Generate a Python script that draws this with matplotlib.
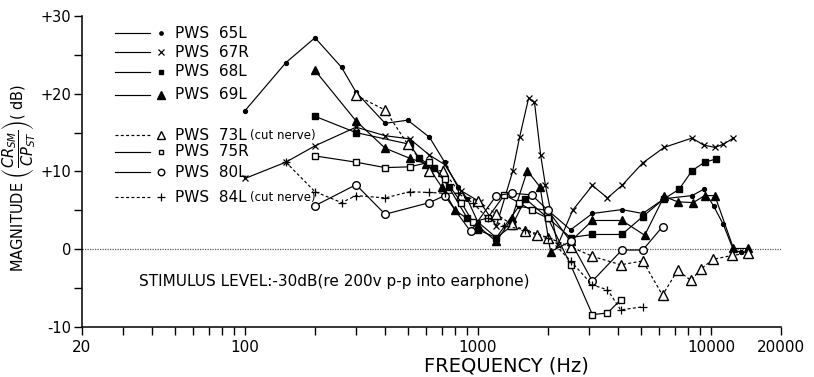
import numpy as np
import matplotlib.pyplot as plt
from matplotlib.ticker import FixedLocator, NullFormatter

# ---- measured responses (frequency in Hz, magnitude in dB) ----
f_65L = [100, 150, 200, 260, 300, 400, 500, 620, 720, 820, 900, 1000, 1200, 1500, 2000, 2500,
         3100, 4150, 5100, 6300, 8300, 9300, 10300, 11300, 12500, 13500]
m_65L = [17.8, 24.0, 27.2, 23.4, 20.2, 16.2, 16.6, 14.4, 11.2, 8.0, 6.5, 3.5, 1.5, 5.5, 5.0, 2.5,
         4.6, 5.1, 4.6, 6.5, 6.9, 7.7, 5.5, 3.2, -0.1, -0.4]

f_67R = [100, 150, 200, 300, 400, 510, 620, 720, 850, 1020, 1200, 1410, 1510, 1650, 1750, 1860, 1950,
         2200, 2550, 3100, 3600, 4150, 5100, 6300, 8300, 9300, 10400, 11300, 12500]
m_67R = [9.1, 11.2, 13.3, 15.7, 14.6, 14.2, 12.1, 10.9, 7.5, 6.1, 3.0, 10.0, 14.4, 19.4, 18.9, 12.1, 8.2,
         0.5, 5.0, 8.2, 6.6, 8.2, 11.1, 13.1, 14.3, 13.4, 13.1, 13.5, 14.3]

f_68L = [200, 300, 510, 560, 650, 750, 900, 1000, 1200, 1400, 1600, 2000, 2500,
         3100, 4150, 5100, 6300, 7300, 8300, 9400, 10500]
m_68L = [17.1, 15.0, 13.5, 11.7, 10.5, 8.0, 4.0, 2.5, 1.5, 3.0, 6.5, 4.0, 1.5,
         1.9, 1.9, 4.2, 6.5, 7.7, 10.1, 11.2, 11.6]

f_69L = [200, 300, 400, 510, 600, 700, 800, 1000, 1200, 1400, 1630, 1850, 2050, 2500,
         3100, 4150, 5200, 6300, 7200, 8400, 9400, 10400, 12500, 14500]
m_69L = [23.0, 16.5, 13.0, 11.7, 11.0, 8.0, 5.0, 3.0, 1.0, 4.0, 10.1, 8.0, -0.3, 1.0,
         3.7, 3.7, 1.8, 6.8, 6.1, 6.0, 6.9, 6.9, 0.1, 0.1]

f_73L = [300, 400, 500, 620, 710, 850, 1000, 1200, 1400, 1600, 1800, 2000, 2500, 3100,
         4100, 5100, 6200, 7200, 8200, 9100, 10200, 12300, 14500]
m_73L = [19.8, 17.9, 13.5, 10.1, 10.1, 7.0, 6.2, 4.5, 3.2, 2.4, 1.8, 1.5, 0.3, -0.9,
         -2.0, -1.5, -5.9, -2.7, -4.0, -2.5, -1.3, -0.8, -0.5]

f_75R = [200, 300, 400, 510, 620, 720, 850, 950, 1100, 1300, 1500, 1700, 2000, 2500, 3100, 3600, 4100]
m_75R = [12.0, 11.2, 10.5, 10.6, 11.2, 9.0, 6.0, 3.5, 4.0, 7.0, 6.0, 5.0, 4.0, -2.0, -8.4, -8.2, -6.5]

f_80L = [200, 300, 400, 620, 720, 930, 1200, 1400, 1700, 2000, 2500, 3100, 4150, 5100, 6200]
m_80L = [5.6, 8.3, 4.5, 6.0, 6.9, 2.3, 6.9, 7.2, 7.0, 5.0, 1.0, -4.1, -0.1, -0.1, 2.9]

f_84L = [150, 200, 260, 300, 400, 510, 620, 720, 820, 950, 1100, 1300, 1600, 2000, 2500,
         3100, 3600, 4100, 5100]
m_84L = [11.2, 7.4, 6.0, 6.9, 6.6, 7.4, 7.3, 7.2, 7.2, 6.0, 4.0, 3.0, 2.5, 1.5, -1.5,
         -4.6, -5.2, -7.8, -7.4]

names = ["PWS  65L", "PWS  67R", "PWS  68L", "PWS  69L",
         "PWS  73L", "PWS  75R", "PWS  80L", "PWS  84L"]
notes = ["", "", "", "", "(cut nerve)", "", "", "(cut nerve)"]

k = 'black'
styles = [
    dict(ls='-', marker='o', ms=2.8, mfc=k),
    dict(ls='-', marker='x', ms=5, mew=0.9),
    dict(ls='-', marker='s', ms=3.8, mfc=k),
    dict(ls='-', marker='^', ms=6, mfc=k),
    dict(ls='--', marker='^', ms=6.5, mfc='white', dashes=(2.5, 2)),
    dict(ls='-', marker='s', ms=3.8, mfc='white'),
    dict(ls='-', marker='o', ms=5.5, mfc='white'),
    dict(ls='--', marker='+', ms=6, mew=0.9, dashes=(2.5, 2)),
]
series = [(f_65L, m_65L), (f_67R, m_67R), (f_68L, m_68L), (f_69L, m_69L),
          (f_73L, m_73L), (f_75R, m_75R), (f_80L, m_80L), (f_84L, m_84L)]

fig = plt.figure(figsize=(8.14, 3.77), dpi=100)
ax = fig.add_axes([0.1007, 0.1326, 0.8588, 0.825])

ax.axhline(0, color='0.35', lw=0.9, ls=(0, (1, 1)), zorder=1)

for (f, m), st in zip(series, styles):
    ax.plot(f, m, color=k, lw=0.85, mec=k, zorder=3, **st)

ax.set_xscale('log')
ax.set_xlim(20, 20000)
ax.set_ylim(-10, 30)

for s in ['top', 'right']:
    ax.spines[s].set_visible(False)
for s in ['left', 'bottom']:
    ax.spines[s].set_linewidth(1.1)

xt = [20, 30, 40, 50, 60, 70, 80, 90, 100, 200, 300, 400, 500, 600, 700, 800, 900,
      1000, 2000, 3000, 4000, 5000, 6000, 7000, 8000, 9000, 10000, 20000]
ax.xaxis.set_major_locator(FixedLocator([20, 100, 1000, 10000, 20000]))
ax.xaxis.set_minor_locator(FixedLocator(xt))
ax.xaxis.set_minor_formatter(NullFormatter())
ax.set_xticklabels(['20', '100', '1000', '10000', '20000'])
ax.set_yticks([-10, 0, 10, 20, 30])
ax.set_yticks([-5, 5, 15, 25], minor=True)
ax.set_yticklabels(['-10', '0', '+10', '+20', '+30'])
ax.tick_params(which='both', direction='out', length=6, width=1, labelsize=11, pad=3)
ax.tick_params(axis='y', which='both', pad=1.5, labelsize=10.5)

ax.set_xlabel('FREQUENCY (Hz)', fontsize=14)
ax.xaxis.set_label_coords(0.607, -0.095)
ax.set_ylabel(r'MAGNITUDE $\left(\dfrac{CR_{SM}}{CP_{ST}}\right)$( dB)', fontsize=10.5)
ax.yaxis.set_label_coords(-0.063, 0.48)

ax.text(35, -4.1, 'STIMULUS LEVEL:-30dB(re 200v p-p into earphone)',
        fontsize=11, va='center', ha='left')

# key in the upper left
key_y = [0.945, 0.884, 0.820, 0.746, 0.617, 0.563, 0.498, 0.418]
for yk, st, name, note in zip(key_y, styles, names, notes):
    line_st = {kk: v for kk, v in st.items() if kk not in ('marker', 'ms', 'mfc', 'mew')}
    ax.plot([0.047, 0.097], [yk, yk], color=k, lw=0.85, transform=ax.transAxes,
            **line_st)
    ax.plot([0.113], [yk], color=k, ls='none', marker=st['marker'],
            ms=st['ms'] * 0.85, mfc=st.get('mfc', k), mec=k, mew=st.get('mew', 1),
            transform=ax.transAxes)
    ax.text(0.133, yk, name, fontsize=11, va='center', transform=ax.transAxes)
    if note:
        ax.text(0.24, yk, note, fontsize=8.5, va='center', transform=ax.transAxes)

plt.savefig('out.png', dpi=100)
